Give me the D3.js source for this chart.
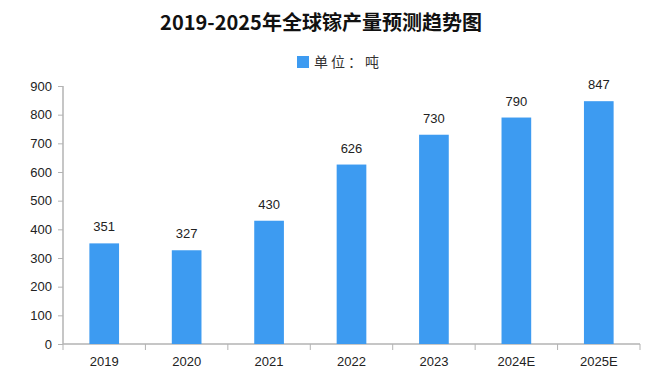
<!DOCTYPE html>
<html>
<head>
<meta charset="utf-8">
<script src="https://cdn.jsdelivr.net/npm/d3@7"></script>
<style>
  body { margin: 0; background: #fff; }
  svg text { font-family: "Liberation Sans", "Noto Sans CJK SC", sans-serif; }
</style>
</head>
<body>
<div id="chart"></div>
<script>
const years = ['2019', '2020', '2021', '2022', '2023', '2024E', '2025E'];
const output = [351, 327, 430, 626, 730, 790, 847];
const yTicks = [0, 100, 200, 300, 400, 500, 600, 700, 800, 900];

const width = 672;
const height = 376;
const margin = { top: 86, right: 32, bottom: 32, left: 63 };
const barColor = '#3d9bf1';
const axisColor = '#b3b3b3';

const svg = d3.select('#chart')
    .append('svg')
    .attr('width', width)
    .attr('height', height);

// title + legend
svg.append('text')
    .attr('x', 321)
    .attr('y', 30)
    .attr('text-anchor', 'middle')
    .style('font-family', '"Noto Sans CJK SC", sans-serif')
    .style('font-size', '20px')
    .style('font-weight', 'bold')
    .attr('fill', '#111')
    .text('2019-2025年全球镓产量预测趋势图');

svg.append('rect')
    .attr('x', 297)
    .attr('y', 56)
    .attr('width', 12)
    .attr('height', 12)
    .attr('fill', barColor);

svg.append('text')
    .attr('x', 314)
    .attr('y', 67)
    .style('font-family', '"Noto Sans CJK SC", sans-serif')
    .style('font-size', '14px')
    .style('letter-spacing', '3px')
    .attr('fill', '#333')
    .text('单位：吨');

const x = d3.scaleBand()
    .domain(years)
    .range([margin.left, width - margin.right])
    .paddingInner(0.64)
    .paddingOuter(0.32);

const y = d3.scaleLinear()
    .domain([0, 900])
    .range([height - margin.bottom, margin.top]);

// y axis
const yAxis = svg.append('g')
    .attr('transform', `translate(${margin.left},0)`)
    .call(d3.axisLeft(y).tickValues(yTicks).tickSize(5).tickPadding(6));

// x axis, ticks between bands
const xAxis = svg.append('g')
    .attr('transform', `translate(0,${y(0)})`)
    .call(d3.axisBottom(x).tickSize(0).tickPadding(13));

const bounds = x.domain().map(d => x(d) - x.step() * x.paddingInner() / 2);
bounds.push(width - margin.right);
xAxis.selectAll('.bound')
    .data(bounds)
    .enter()
    .append('line')
    .attr('class', 'bound')
    .attr('x1', d => d)
    .attr('x2', d => d)
    .attr('y1', 0)
    .attr('y2', 6)
    .attr('stroke', axisColor);

[yAxis, xAxis].forEach(g => {
    g.select('.domain').attr('stroke', axisColor).attr('stroke-width', 1.5);
    g.selectAll('.tick line').attr('stroke', axisColor);
    g.selectAll('.tick text')
        .attr('fill', '#222')
        .style('font-size', '13px');
});
yAxis.select('.domain').attr('d', `M0,${y(900)}V${y(0)}`);
xAxis.select('.domain').attr('d', `M${margin.left},0H${width - margin.right}`);

// bars
svg.selectAll('.bar')
    .data(output)
    .enter()
    .append('rect')
    .attr('class', 'bar')
    .attr('x', (d, i) => x(years[i]))
    .attr('y', d => y(d))
    .attr('width', x.bandwidth())
    .attr('height', d => y(0) - y(d))
    .attr('fill', barColor);

// value labels
svg.selectAll('.val')
    .data(output)
    .enter()
    .append('text')
    .attr('class', 'val')
    .attr('x', (d, i) => x(years[i]) + x.bandwidth() / 2)
    .attr('y', d => y(d) - 12)
    .attr('text-anchor', 'middle')
    .attr('fill', '#222')
    .style('font-size', '13px')
    .text(d => d);
</script>
</body>
</html>
